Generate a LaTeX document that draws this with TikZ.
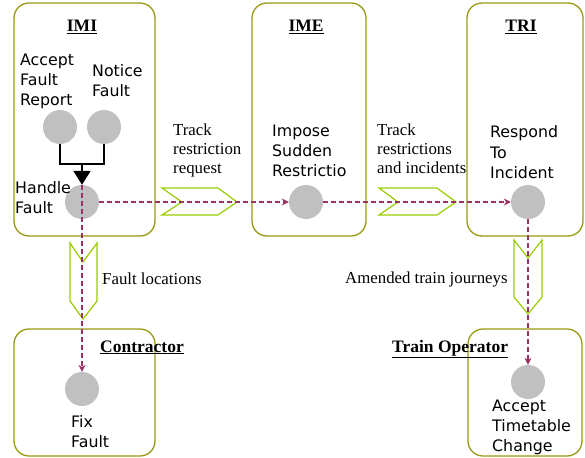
\documentclass[tikz,border=0pt]{standalone}
\usepackage{fontspec}
\setmainfont{Liberation Serif}
\setsansfont{DejaVu Sans}
\usetikzlibrary{arrows.meta}
\definecolor{boxc}{RGB}{153,153,20}
\definecolor{chev}{RGB}{153,204,0}
\definecolor{flow}{RGB}{153,51,102}
\definecolor{actc}{RGB}{192,192,192}
\begin{document}
\begin{tikzpicture}[x=1pt,y=-1pt,
 lane/.style={draw=boxc, line width=1.3pt, rounded corners=15pt},
 act/.style={circle, fill=actc, minimum size=34pt, inner sep=0pt},
 lbl/.style={font=\sffamily\fontsize{15.8}{20}\selectfont, align=left, anchor=base west, inner sep=0pt},
 msg/.style={font=\fontsize{16.8}{19}\selectfont, align=left, anchor=base west, inner sep=0pt},
 ttl/.style={font=\bfseries\fontsize{17.5}{20}\selectfont, inner sep=0pt, anchor=base},
 chv/.style={draw=chev, line width=1.2pt, line join=miter},
 flowline/.style={draw=flow, line width=1.6pt, dash pattern=on 5pt off 3pt, -{Stealth[length=7pt,width=7pt]}},
]
\useasboundingbox (0,0) rectangle (585,457);

% swimlanes
\draw[lane] (14,3) rectangle (155,236);
\draw[lane] (252,3) rectangle (366,236);
\draw[lane] (467,3) rectangle (583,236);
\draw[lane] (14,329) rectangle (155,456);
\draw[lane] (468,329) rectangle (582,456);

% titles
\node[ttl] (timi) at (82,32) {\underline{IMI}};
\node[ttl] (time) at (306,32) {\underline{IME}};
\node[ttl] (ttri) at (521,32) {\underline{TRI}};
\node[ttl, anchor=base west] (tcon) at (100,352) {\underline{Contractor}};
\node[ttl, anchor=base west] (ttop) at (392,352) {\underline{Train Operator}};

% chevrons
\draw[chv] (162,188) -- (218,188) -- (237,202) -- (218,215) -- (162,215) -- (182,202) -- cycle;
\draw[chv] (379,188) -- (437,188) -- (456,202) -- (437,215) -- (379,215) -- (398,202) -- cycle;
\draw[chv] (70,243) -- (83,262) -- (97,243) -- (97,301) -- (83,319) -- (70,301) -- cycle;
\draw[chv] (514,240) -- (528,258) -- (542,240) -- (542,297) -- (528,314) -- (514,297) -- cycle;

% activities
\node[act] (arf) at (60,127) {};
\node[act] (nf) at (104,127) {};
\node[act] (hf) at (82,202) {};
\node[act] (isr) at (306,202) {};
\node[act] (rti) at (528,202) {};
\node[act] (fix) at (82,389) {};
\node[act] (atc) at (528,382) {};

% activity labels (anchor = baseline of last line)
\node[lbl] (larf) at (20,106) {Accept\\Fault\\Report};
\node[lbl] (lnf) at (92,97) {Notice\\Fault};
\node[lbl] (lhf) at (15,213) {Handle\\Fault};
\node[lbl] (lisr) at (272,176) {Impose\\Sudden\\Restrictio};
\node[lbl] (lrti) at (490,178) {Respond\\To\\Incident};
\node[lbl] (lfix) at (71,447) {Fix\\Fault};
\node[lbl] (latc) at (492,451) {Accept\\Timetable\\Change};

% message labels
\node[msg] (m1) at (173,173) {Track\\restriction\\request};
\node[msg] (m2) at (377,173) {Track\\restrictions\\and incidents};
\node[msg] (m3) at (102,284) {Fault locations};
\node[msg] (m4) at (345,283) {Amended train journeys};

% join
\coordinate (join) at (82,164);
\draw[line width=2pt] (arf.south) |- (join) -| (nf.south);
\draw[line width=2pt, -{Triangle[length=14pt,width=17pt]}] (join) -- (hf.north);

% flows
\draw[flowline] (hf.east) -- (isr.west);
\draw[flowline] (isr.east) -- (rti.west);
\draw[flowline] (hf.north) -- (fix.north);
\draw[flowline] (rti.south) -- (atc.north);
\end{tikzpicture}
\end{document}
